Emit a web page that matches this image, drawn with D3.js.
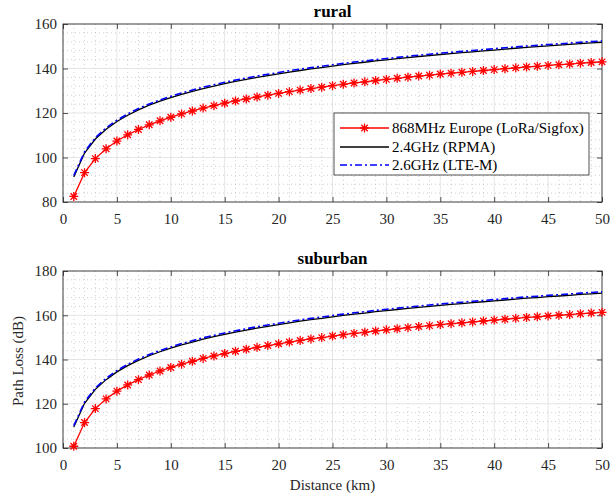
<!DOCTYPE html>
<html>
<head>
<meta charset="utf-8">
<script src="https://cdn.jsdelivr.net/npm/d3@7"></script>
<style>
  body { margin: 0; background: #fff; }
  svg text { font-family: "Liberation Serif", "Times New Roman", Times, serif !important; }
</style>
</head>
<body>
<svg id="chart" width="611" height="501"></svg>
<script>
// distance in km, one point per km
var distance = d3.range(1, 51);

var seriesNames = ["868MHz Europe (LoRa/Sigfox)", "2.4GHz (RPMA)", "2.6GHz (LTE-M)"];

var rural868 = [82.5, 93.2, 99.5, 103.9, 107.4, 110.2, 112.6, 114.7, 116.5, 118.1,
  119.6, 120.9, 122.2, 123.3, 124.4, 125.4, 126.3, 127.2, 128.0, 128.8,
  129.6, 130.3, 131.0, 131.6, 132.3, 132.9, 133.5, 134.0, 134.6, 135.1,
  135.6, 136.1, 136.6, 137.0, 137.5, 137.9, 138.3, 138.7, 139.1, 139.5,
  139.9, 140.3, 140.7, 141.0, 141.4, 141.7, 142.0, 142.4, 142.7, 143.0];
var rural24 = [91.3, 102.0, 108.3, 112.7, 116.2, 119.0, 121.4, 123.5, 125.3, 126.9,
  128.4, 129.7, 131.0, 132.1, 133.2, 134.2, 135.1, 136.0, 136.8, 137.6,
  138.4, 139.1, 139.8, 140.4, 141.1, 141.7, 142.3, 142.8, 143.4, 143.9,
  144.4, 144.9, 145.4, 145.8, 146.3, 146.7, 147.1, 147.5, 147.9, 148.3,
  148.7, 149.1, 149.5, 149.8, 150.2, 150.5, 150.8, 151.2, 151.5, 151.8];
var rural26 = [91.9, 102.6, 108.9, 113.3, 116.8, 119.6, 122.0, 124.1, 125.9, 127.5,
  129.0, 130.3, 131.6, 132.7, 133.8, 134.8, 135.7, 136.6, 137.4, 138.2,
  139.0, 139.7, 140.4, 141.0, 141.7, 142.3, 142.9, 143.4, 144.0, 144.5,
  145.0, 145.5, 146.0, 146.4, 146.9, 147.3, 147.7, 148.1, 148.5, 148.9,
  149.3, 149.7, 150.1, 150.4, 150.8, 151.1, 151.4, 151.8, 152.1, 152.4];

var suburban868 = [100.8, 111.5, 117.8, 122.2, 125.7, 128.5, 130.9, 133.0, 134.8, 136.4,
  137.9, 139.2, 140.5, 141.6, 142.7, 143.7, 144.6, 145.5, 146.3, 147.1,
  147.9, 148.6, 149.3, 149.9, 150.6, 151.2, 151.8, 152.3, 152.9, 153.4,
  153.9, 154.4, 154.9, 155.3, 155.8, 156.2, 156.6, 157.0, 157.4, 157.8,
  158.2, 158.6, 159.0, 159.3, 159.7, 160.0, 160.3, 160.7, 161.0, 161.3];
var suburban24 = [109.5, 120.2, 126.5, 130.9, 134.4, 137.2, 139.6, 141.7, 143.5, 145.1,
  146.6, 147.9, 149.2, 150.3, 151.4, 152.4, 153.3, 154.2, 155.0, 155.8,
  156.6, 157.3, 158.0, 158.6, 159.3, 159.9, 160.5, 161.0, 161.6, 162.1,
  162.6, 163.1, 163.6, 164.0, 164.5, 164.9, 165.3, 165.7, 166.1, 166.5,
  166.9, 167.3, 167.7, 168.0, 168.4, 168.7, 169.0, 169.4, 169.7, 170.0];
var suburban26 = [110.1, 120.8, 127.1, 131.5, 135.0, 137.8, 140.2, 142.3, 144.1, 145.7,
  147.2, 148.5, 149.8, 150.9, 152.0, 153.0, 153.9, 154.8, 155.6, 156.4,
  157.2, 157.9, 158.6, 159.2, 159.9, 160.5, 161.1, 161.6, 162.2, 162.7,
  163.2, 163.7, 164.2, 164.6, 165.1, 165.5, 165.9, 166.3, 166.7, 167.1,
  167.5, 167.9, 168.3, 168.6, 169.0, 169.3, 169.6, 170.0, 170.3, 170.6];

var xTicks = [0, 5, 10, 15, 20, 25, 30, 35, 40, 45, 50];
var ruralTicks = [80, 100, 120, 140, 160];
var suburbanTicks = [100, 120, 140, 160, 180];

var svg = d3.select("#chart");
var left = 63, right = 602;
var serif = "'Liberation Serif', 'Times New Roman', Times, serif";

var x = d3.scaleLinear().domain([0, 50]).range([left, right]);

function asterisk(g, px, py, r) {
    var d = "M" + (px - r) + "," + py + "H" + (px + r) +
            "M" + px + "," + (py - r) + "V" + (py + r);
    var k = r * 0.72;
    d += "M" + (px - k) + "," + (py - k) + "L" + (px + k) + "," + (py + k) +
         "M" + (px - k) + "," + (py + k) + "L" + (px + k) + "," + (py - k);
    g.append("path").attr("d", d).attr("stroke", "#ff0000")
        .attr("stroke-width", 1.3).attr("fill", "none");
}

function drawPanel(top, bottom, yDomain, yTicks, title, s1, s2, s3, withLegend) {
    var y = d3.scaleLinear().domain(yDomain).range([bottom, top]);
    var g = svg.append("g");

    g.append("rect").attr("x", left).attr("y", top)
        .attr("width", right - left).attr("height", bottom - top).attr("fill", "#fff");

    // minor grid
    var minorX = d3.range(1, 50).filter(v => v % 5 !== 0);
    var minorY = d3.range(yDomain[0], yDomain[1], 4).filter(v => (v - yDomain[0]) % 20 !== 0);
    g.selectAll(".mx").data(minorX).enter().append("line")
        .attr("x1", d => x(d)).attr("x2", d => x(d)).attr("y1", top).attr("y2", bottom)
        .attr("stroke", "#b0b0b0").attr("stroke-width", 0.6).attr("stroke-dasharray", "1,3");
    g.selectAll(".my").data(minorY).enter().append("line")
        .attr("y1", d => y(d)).attr("y2", d => y(d)).attr("x1", left).attr("x2", right)
        .attr("stroke", "#b0b0b0").attr("stroke-width", 0.6).attr("stroke-dasharray", "1,3");

    // major grid
    g.selectAll(".gx").data(xTicks.slice(1, -1)).enter().append("line")
        .attr("x1", d => x(d)).attr("x2", d => x(d)).attr("y1", top).attr("y2", bottom)
        .attr("stroke", "#dedede").attr("stroke-width", 0.8);
    g.selectAll(".gy").data(yTicks.slice(1, -1)).enter().append("line")
        .attr("y1", d => y(d)).attr("y2", d => y(d)).attr("x1", left).attr("x2", right)
        .attr("stroke", "#dedede").attr("stroke-width", 0.8);

    // axes with inward ticks
    var axB = d3.axisBottom(x).tickValues(xTicks).tickSizeInner(-5).tickSizeOuter(0).tickPadding(11);
    var axT = d3.axisTop(x).tickValues(xTicks).tickSizeInner(-5).tickSizeOuter(0).tickFormat("");
    var axL = d3.axisLeft(y).tickValues(yTicks).tickSizeInner(-5).tickSizeOuter(0).tickPadding(6);
    var axR = d3.axisRight(y).tickValues(yTicks).tickSizeInner(-5).tickSizeOuter(0).tickFormat("");

    [[axB, "translate(0," + bottom + ")"], [axT, "translate(0," + top + ")"],
     [axL, "translate(" + left + ",0)"], [axR, "translate(" + right + ",0)"]].forEach(function (a) {
        var ag = g.append("g").attr("transform", a[1]).call(a[0])
            .attr("font-family", serif).attr("font-size", 15);
        ag.select(".domain").remove();
        ag.selectAll("line").attr("stroke", "#262626").attr("stroke-width", 0.8);
        ag.selectAll("text").attr("fill", "#262626");
    });

    g.append("rect").attr("x", left).attr("y", top)
        .attr("width", right - left).attr("height", bottom - top)
        .attr("fill", "none").attr("stroke", "#262626").attr("stroke-width", 0.9);

    var line = d3.line().x((d, i) => x(distance[i])).y(d => y(d));

    g.append("path").datum(s1).attr("d", line).attr("fill", "none")
        .attr("stroke", "#ff0000").attr("stroke-width", 1.3);
    s1.forEach((v, i) => asterisk(g, x(distance[i]), y(v), 4.5));

    g.append("path").datum(s2).attr("d", line).attr("fill", "none")
        .attr("stroke", "#000").attr("stroke-width", 1.3);
    g.append("path").datum(s3).attr("d", line).attr("fill", "none")
        .attr("stroke", "#0000ff").attr("stroke-width", 1.6)
        .attr("stroke-dasharray", "7,3,2,3");

    g.append("text").attr("x", (left + right) / 2).attr("y", top - 7)
        .attr("text-anchor", "middle").attr("font-size", 17).attr("font-weight", "bold")
        .attr("font-family", serif).attr("fill", "#000").text(title);

    if (withLegend) {
        var lg = g.append("g");
        lg.append("rect").attr("x", 334).attr("y", 113).attr("width", 255).attr("height", 62)
            .attr("fill", "#fff").attr("stroke", "#262626").attr("stroke-width", 0.8);
        var rows = [128, 147, 165];
        var styles = [
            {c: "#ff0000", w: 1.3, dash: null},
            {c: "#000", w: 1.3, dash: null},
            {c: "#0000ff", w: 1.6, dash: "7,3,2,3"}
        ];
        rows.forEach(function (ry, i) {
            lg.append("line").attr("x1", 340).attr("x2", 389).attr("y1", ry).attr("y2", ry)
                .attr("stroke", styles[i].c).attr("stroke-width", styles[i].w)
                .attr("stroke-dasharray", styles[i].dash);
            if (i === 0) asterisk(lg, 364.5, ry, 4.5);
            lg.append("text").attr("x", 392).attr("y", ry + 5)
                .attr("font-size", 15).attr("font-family", serif)
                .attr("fill", "#000").text(seriesNames[i]);
        });
    }
}

drawPanel(24, 202, [80, 160], ruralTicks, "rural", rural868, rural24, rural26, true);
drawPanel(271, 448, [100, 180], suburbanTicks, "suburban", suburban868, suburban24, suburban26, false);

svg.append("text").attr("x", (left + right) / 2).attr("y", 490)
    .attr("text-anchor", "middle").attr("font-size", 15).attr("font-family", serif)
    .attr("fill", "#262626").text("Distance (km)");
svg.append("text").attr("transform", "translate(23,361) rotate(-90)")
    .attr("text-anchor", "middle").attr("font-size", 15).attr("font-family", serif)
    .attr("fill", "#262626").text("Path Loss (dB)");
</script>
</body>
</html>
